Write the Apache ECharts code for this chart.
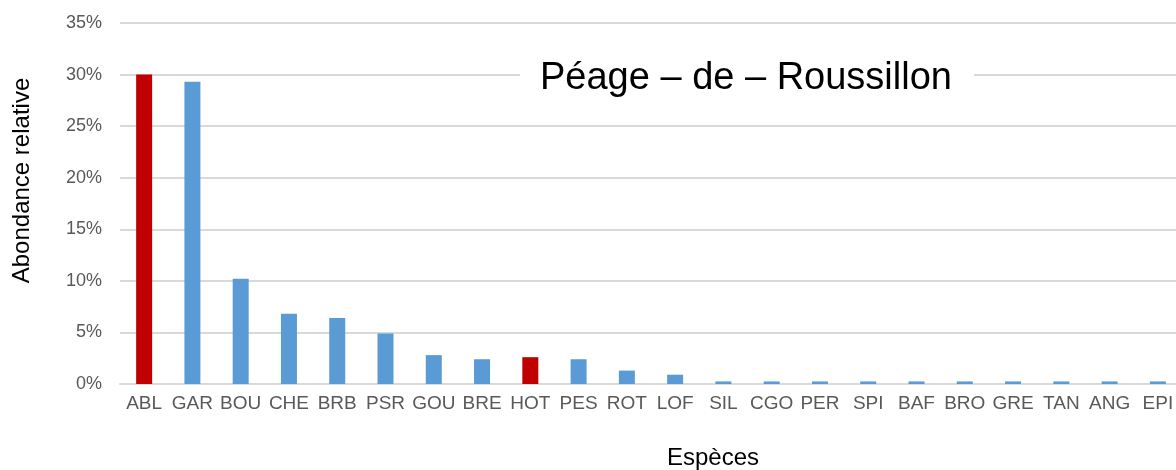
<!DOCTYPE html>
<html>
<head>
<meta charset="utf-8">
<script src="https://cdn.jsdelivr.net/npm/echarts@6/dist/echarts.min.js"></script>
<style>
	html, body { margin: 0; padding: 0; background: #fff; }
	#chart { width: 1176px; height: 470px; }
</style>
</head>
<body>
<div id="chart"></div>
<script>
// espèces et abondance relative (%)
var especes = ['ABL', 'GAR', 'BOU', 'CHE', 'BRB', 'PSR', 'GOU', 'BRE', 'HOT', 'PES', 'ROT', 'LOF',
	'SIL', 'CGO', 'PER', 'SPI', 'BAF', 'BRO', 'GRE', 'TAN', 'ANG', 'EPI'];
var abondance = [30.0, 29.3, 10.2, 6.8, 6.4, 4.9, 2.8, 2.4, 2.6, 2.4, 1.3, 0.9,
	0.25, 0.25, 0.25, 0.25, 0.25, 0.25, 0.25, 0.25, 0.25, 0.25];
var especesMarquees = ['ABL', 'HOT']; // en rouge
var yTicks = [0, 5, 10, 15, 20, 25, 30, 35];

var police = 'Liberation Sans, Arial, sans-serif';
var chartDom = document.getElementById('chart');
var myChart = echarts.init(chartDom);
var option;

option = {
	animation: false,
	title: {
		text: 'Péage – de – Roussillon',
		left: 520,
		top: 58,
		padding: [2, 22, 2, 20],
		backgroundColor: '#fff',
		textStyle: {
			fontFamily: police,
			fontSize: 38,
			fontWeight: 'normal',
			color: '#000',
		},
	},
	grid: {
		left: 120,
		top: 23,
		width: 1062,
		bottom: 86,
		outerBoundsMode: 'none',
	},
	xAxis: {
		type: 'category',
		data: especes,
		name: 'Espèces',
		nameLocation: 'middle',
		nameGap: 62,
		nameTextStyle: { fontFamily: police, fontSize: 24, color: '#000', padding: [0, 0, 0, 124] },
		axisLine: { lineStyle: { color: '#d9d9d9', width: 2 } },
		axisTick: { show: false },
		axisLabel: {
			interval: 0,
			margin: 10,
			fontFamily: police,
			fontSize: 19,
			color: '#595959',
		},
	},
	yAxis: {
		type: 'value',
		min: yTicks[0],
		max: yTicks[yTicks.length - 1],
		interval: 5,
		name: 'Abondance relative',
		nameLocation: 'middle',
		nameGap: 86,
		nameTextStyle: { fontFamily: police, fontSize: 24, color: '#000', padding: [0, 0, 0, 46] },
		axisLine: { show: false },
		axisTick: { show: false },
		axisLabel: {
			formatter: '{value}%',
			margin: 18,
			fontFamily: police,
			fontSize: 18,
			color: '#595959',
		},
		splitLine: { lineStyle: { color: '#d9d9d9', width: 2 } },
	},
	series: [
		{
			type: 'bar',
			barWidth: 16,
			data: abondance.map(function (v, i) {
				return {
					value: v,
					itemStyle: { color: especesMarquees.indexOf(especes[i]) >= 0 ? '#c00000' : '#5b9bd5' },
				};
			}),
		},
	],
};
myChart.setOption(option);
</script>
</body>
</html>
